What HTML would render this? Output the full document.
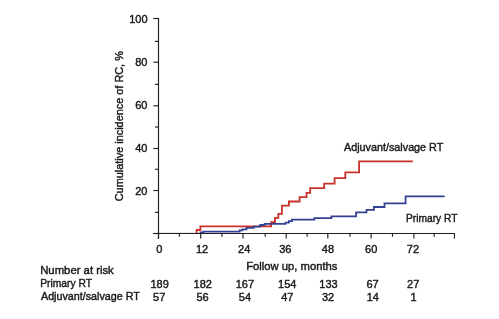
<!DOCTYPE html>
<html><head><meta charset="utf-8"><style>
html,body{margin:0;padding:0;background:#fff;width:499px;height:319px;overflow:hidden}
svg{display:block;will-change:transform}
text{font-family:"Liberation Sans",sans-serif;font-size:11px;fill:#1a1a1a;stroke:#1a1a1a;stroke-width:0.42px}
</style></head><body>
<svg width="499" height="319" viewBox="0 0 499 319">
<rect width="499" height="319" fill="#fff"/>
<path d="M196.6 233.5 L196.6 230.0 L200.4 230.0 L200.4 226.4 L271.1 226.4 L271.1 222.1 L275.0 222.1 L275.0 217.8 L278.3 217.8 L278.3 213.9 L281.9 213.9 L281.9 205.6 L288.9 205.6 L288.9 201.5 L299.6 201.5 L299.6 197.1 L306.5 197.1 L306.5 192.9 L310.2 192.9 L310.2 188.2 L324.2 188.2 L324.2 183.7 L334.6 183.7 L334.6 178.2 L345.3 178.2 L345.3 172.3 L359.1 172.3 L359.1 161.4 L412.9 161.4" fill="none" stroke="#c8322a" stroke-width="1.8" stroke-linejoin="miter" stroke-linecap="butt"/>
<path d="M158.5 233.4 L199.6 233.4" fill="none" stroke="#324191" stroke-width="1.0"/>
<path d="M199.6 232.4 L203.4 232.4 L203.4 231.6 L239.6 231.6 L239.6 230.4 L242.4 230.4 L242.4 229.3 L246.5 229.3 L246.5 227.9 L253.7 227.9 L253.7 226.6 L260.2 226.6 L260.2 225.0 L264.7 225.0 L264.7 223.9 L285.5 223.9 L285.5 222.6 L288.9 222.6 L288.9 221.2 L292.0 221.2 L292.0 219.7 L314.4 219.7 L314.4 218.2 L331.4 218.2 L331.4 216.4 L356.1 216.4 L356.1 212.3 L366.5 212.3 L366.5 209.9 L373.9 209.9 L373.9 207.0 L384.5 207.0 L384.5 203.3 L405.6 203.3 L405.6 196.4 L444.7 196.4" fill="none" stroke="#324191" stroke-width="1.8" stroke-linejoin="miter" stroke-linecap="butt"/>
<g stroke="#231f20" stroke-width="1.15">
<line x1="158.5" y1="18" x2="158.5" y2="239"/>
<line x1="153" y1="233.5" x2="455" y2="233.5"/>
<line x1="153.3" y1="18.5" x2="158.5" y2="18.5"/>
<line x1="155" y1="41.4" x2="158.5" y2="41.4"/>
<line x1="153.3" y1="62.2" x2="158.5" y2="62.2"/>
<line x1="155" y1="84.4" x2="158.5" y2="84.4"/>
<line x1="153.3" y1="105.8" x2="158.5" y2="105.8"/>
<line x1="155" y1="127" x2="158.5" y2="127"/>
<line x1="153.3" y1="148.5" x2="158.5" y2="148.5"/>
<line x1="155" y1="169.3" x2="158.5" y2="169.3"/>
<line x1="153.3" y1="190.5" x2="158.5" y2="190.5"/>
<line x1="155" y1="212.4" x2="158.5" y2="212.4"/>
<line x1="153.3" y1="233.5" x2="158.5" y2="233.5"/>
<line x1="158.5" y1="233.5" x2="158.5" y2="238.6"/>
<line x1="200.7" y1="233.5" x2="200.7" y2="238.6"/>
<line x1="243" y1="233.5" x2="243" y2="238.6"/>
<line x1="286.2" y1="233.5" x2="286.2" y2="238.6"/>
<line x1="327.8" y1="233.5" x2="327.8" y2="238.6"/>
<line x1="371.1" y1="233.5" x2="371.1" y2="238.6"/>
<line x1="413.9" y1="233.5" x2="413.9" y2="238.6"/>
<line x1="454.4" y1="233.5" x2="454.4" y2="238.6"/>
<line x1="179.4" y1="233.5" x2="179.4" y2="236.7"/>
<line x1="221.9" y1="233.5" x2="221.9" y2="236.7"/>
<line x1="265.2" y1="233.5" x2="265.2" y2="236.7"/>
<line x1="307.1" y1="233.5" x2="307.1" y2="236.7"/>
<line x1="350" y1="233.5" x2="350" y2="236.7"/>
<line x1="392.5" y1="233.5" x2="392.5" y2="236.7"/>
<line x1="434.2" y1="233.5" x2="434.2" y2="236.7"/>
</g>
<text x="147.5" y="22.9" text-anchor="end">100</text>
<text x="147.5" y="66.1" text-anchor="end">80</text>
<text x="147.5" y="109.1" text-anchor="end">60</text>
<text x="147.5" y="151.9" text-anchor="end">40</text>
<text x="147.5" y="194.7" text-anchor="end">20</text>
<text x="159.25" y="253" text-anchor="middle">0</text>
<text x="202.1" y="253" text-anchor="middle">12</text>
<text x="244.2" y="253" text-anchor="middle">24</text>
<text x="285.3" y="253" text-anchor="middle">36</text>
<text x="327.9" y="253" text-anchor="middle">48</text>
<text x="371.2" y="253" text-anchor="middle">60</text>
<text x="412.9" y="253" text-anchor="middle">72</text>
<text x="344" y="151" textLength="99.3" lengthAdjust="spacingAndGlyphs">Adjuvant/salvage RT</text>
<text x="406" y="222" textLength="51.4" lengthAdjust="spacingAndGlyphs">Primary RT</text>
<text x="246.2" y="270.2" textLength="91.3" lengthAdjust="spacingAndGlyphs">Follow up, months</text>
<text transform="translate(123.3,126.2) rotate(-90)" text-anchor="middle" textLength="150.1" lengthAdjust="spacingAndGlyphs">Cumulative incidence of RC, %</text>
<text x="40.2" y="273.8" textLength="73.6" lengthAdjust="spacingAndGlyphs">Number at risk</text>
<text x="40.2" y="287" textLength="51.9" lengthAdjust="spacingAndGlyphs">Primary RT</text>
<text x="41" y="299.5" textLength="98.8" lengthAdjust="spacingAndGlyphs">Adjuvant/salvage RT</text>
<text x="159.6" y="288" text-anchor="middle">189</text>
<text x="202.8" y="288" text-anchor="middle">182</text>
<text x="244.9" y="288" text-anchor="middle">167</text>
<text x="287.2" y="288" text-anchor="middle">154</text>
<text x="328.5" y="288" text-anchor="middle">133</text>
<text x="372.6" y="288" text-anchor="middle">67</text>
<text x="413.2" y="288" text-anchor="middle">27</text>
<text x="159.2" y="301" text-anchor="middle">57</text>
<text x="202.6" y="301" text-anchor="middle">56</text>
<text x="244.9" y="301" text-anchor="middle">54</text>
<text x="287.3" y="301" text-anchor="middle">47</text>
<text x="328" y="301" text-anchor="middle">32</text>
<text x="372.8" y="301" text-anchor="middle">14</text>
<text x="413.5" y="301" text-anchor="middle">1</text>
</svg>
</body></html>
